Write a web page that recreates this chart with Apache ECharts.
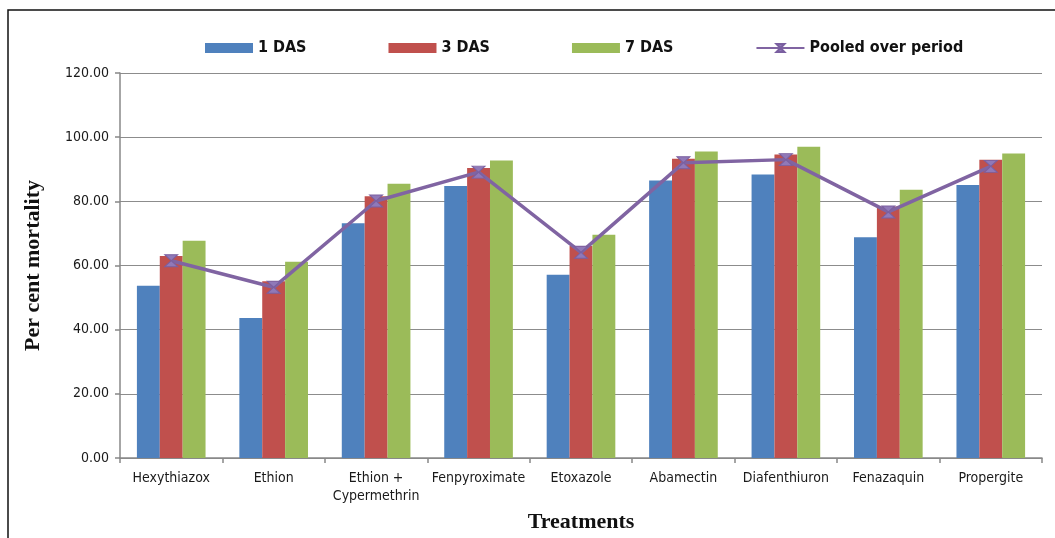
<!DOCTYPE html>
<html>
<head>
<meta charset="utf-8">
<script src="https://cdn.jsdelivr.net/npm/echarts@6/dist/echarts.min.js"></script>
<style>
html,body{margin:0;padding:0;background:#fff;}
#chart{width:1055px;height:538px;}
</style>
</head>
<body>
<div id="chart"></div>
<script>
const categories = ['Hexythiazox','Ethion','Ethion +\nCypermethrin','Fenpyroximate','Etoxazole','Abamectin','Diafenthiuron','Fenazaquin','Propergite'];
const das1 = [53.7, 43.6, 73.2, 84.8, 57.1, 86.5, 88.4, 68.8, 85.1];
const das3 = [63.0, 55.1, 81.6, 90.4, 66.1, 93.3, 94.6, 78.4, 93.0];
const das7 = [67.7, 61.2, 85.5, 92.7, 69.6, 95.5, 97.0, 83.6, 94.9];
const pooled = [61.5, 53.2, 80.1, 89.1, 64.1, 92.0, 93.0, 76.7, 90.9];
const yTicks = {min: 0, max: 120, interval: 20};

const chart = echarts.init(document.getElementById('chart'));
const hourglass = 'path://M0,0 L10,0 L5,5 L10,10 L0,10 L5,5 Z';
chart.setOption({
  animation: false,
  backgroundColor: '#fff',
  graphic: [{
    type: 'rect', shape: {x: 8, y: 10, width: 1070, height: 560},
    style: {fill: 'none', stroke: '#111', lineWidth: 1.5}, silent: true, z: 100
  }],
  legend: {
    left: 200, top: 35,
    itemWidth: 48, itemHeight: 10, itemGap: 82,
    textStyle: {fontFamily: 'DejaVu Sans Condensed', fontWeight: 'bold', fontSize: 16, color: '#111'},
    data: [
      {name: '1 DAS', icon: 'rect'},
      {name: '3 DAS', icon: 'rect'},
      {name: '7 DAS', icon: 'rect'},
      {name: 'Pooled over period'}
    ]
  },
  grid: {left: 120, right: 13, top: 73, bottom: 78},
  xAxis: {
    type: 'category', data: categories,
    name: 'Treatments', nameLocation: 'middle', nameGap: 53,
    nameTextStyle: {fontFamily: 'Liberation Serif', fontWeight: 'bold', fontSize: 22, color: '#111'},
    axisLine: {lineStyle: {color: '#888', width: 1.5}},
    axisTick: {show: true, length: 5, lineStyle: {color: '#888', width: 1.5}},
    axisLabel: {interval: 0, margin: 11, fontFamily: 'DejaVu Sans Condensed', fontSize: 14, color: '#1a1a1a', lineHeight: 18}
  },
  yAxis: {
    type: 'value', min: yTicks.min, max: yTicks.max, interval: yTicks.interval,
    name: 'Per cent mortality', nameLocation: 'middle', nameGap: 76,
    nameTextStyle: {fontFamily: 'Liberation Serif', fontWeight: 'bold', fontSize: 22, color: '#111'},
    axisLine: {show: true, lineStyle: {color: '#888', width: 1.5}},
    axisTick: {show: true, length: 5, lineStyle: {color: '#888', width: 1.5}},
    axisLabel: {margin: 11, fontFamily: 'DejaVu Sans Condensed', fontSize: 14, color: '#1a1a1a', formatter: v => v.toFixed(2)},
    splitLine: {lineStyle: {color: '#8c8c8c', width: 1}}
  },
  series: [
    {name: '1 DAS', type: 'bar', data: das1, barGap: '0%', barCategoryGap: '33%', itemStyle: {color: '#4F81BD'}},
    {name: '3 DAS', type: 'bar', data: das3, barGap: '0%', barCategoryGap: '33%', itemStyle: {color: '#C0504D'}},
    {name: '7 DAS', type: 'bar', data: das7, barGap: '0%', barCategoryGap: '33%', itemStyle: {color: '#9BBB59'}},
    {name: 'Pooled over period', type: 'line', data: pooled, symbol: hourglass, symbolSize: [13, 12],
     lineStyle: {color: '#8064A2', width: 3.5},
     itemStyle: {color: '#9079b8', borderColor: '#7a5fa0', borderWidth: 1}, z: 5}
  ]
});
</script>
</body>
</html>
